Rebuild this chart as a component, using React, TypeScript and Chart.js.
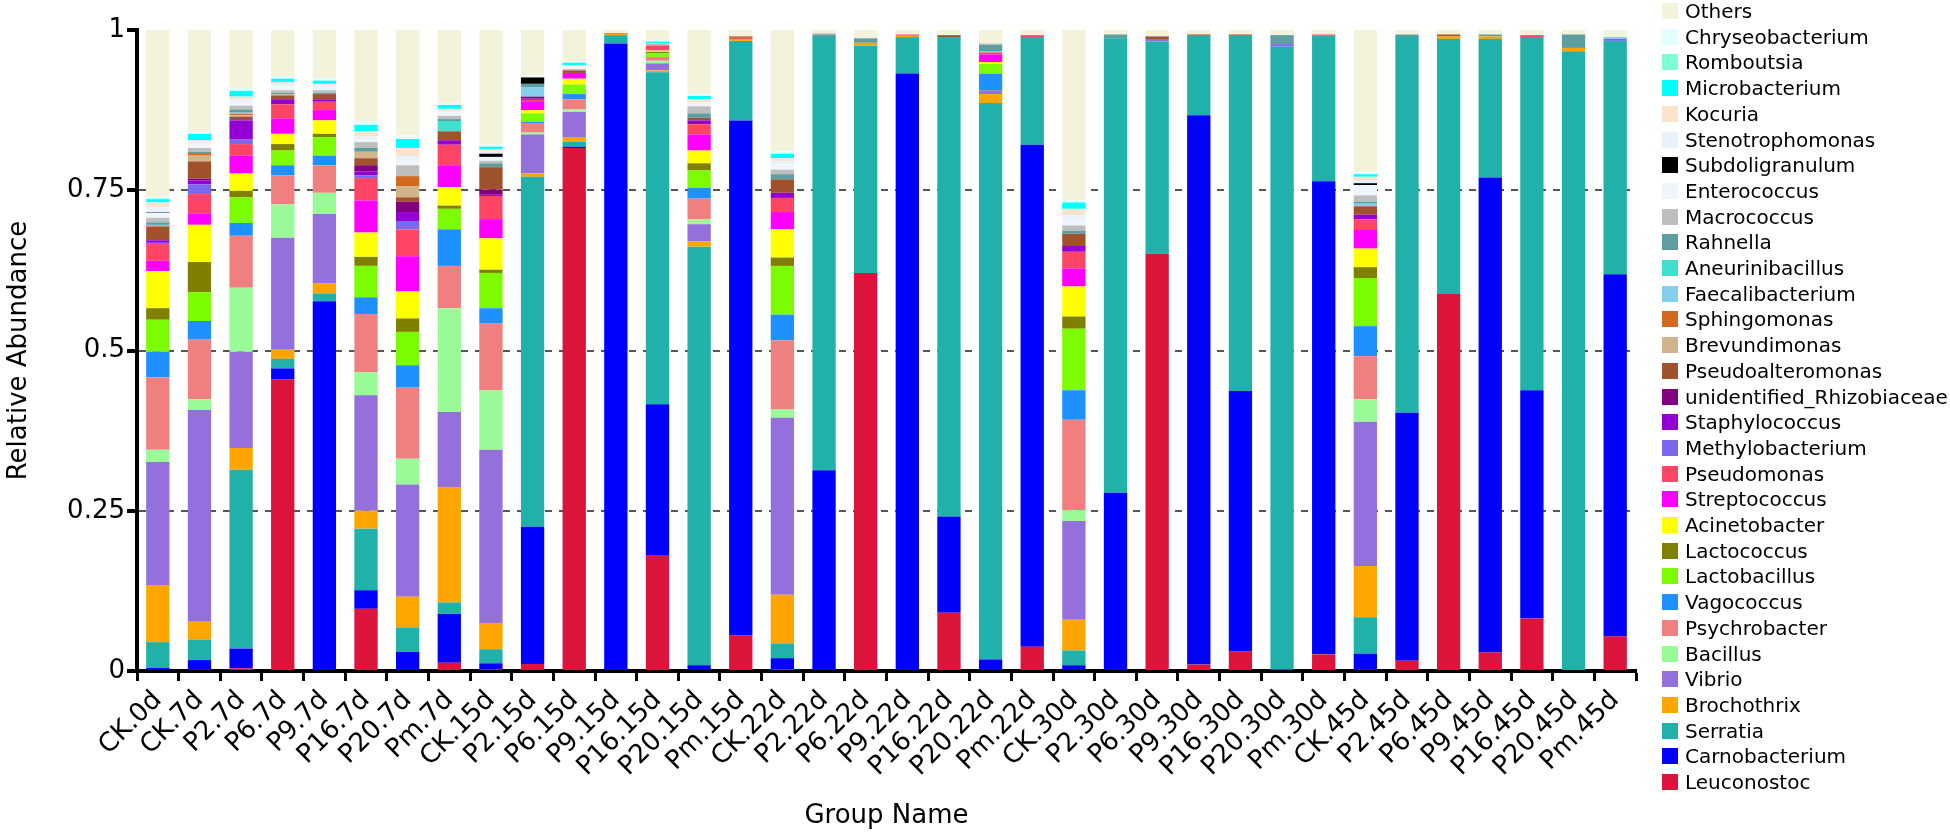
import { useEffect, useRef } from 'react';
import Chart from 'chart.js/auto';

const groups = [
  'CK.0d', 'CK.7d', 'P2.7d', 'P6.7d', 'P9.7d', 'P16.7d', 'P20.7d', 'Pm.7d',
  'CK.15d', 'P2.15d', 'P6.15d', 'P9.15d', 'P16.15d', 'P20.15d', 'Pm.15d',
  'CK.22d', 'P2.22d', 'P6.22d', 'P9.22d', 'P16.22d', 'P20.22d', 'Pm.22d',
  'CK.30d', 'P2.30d', 'P6.30d', 'P9.30d', 'P16.30d', 'P20.30d', 'Pm.30d',
  'CK.45d', 'P2.45d', 'P6.45d', 'P9.45d', 'P16.45d', 'P20.45d', 'Pm.45d',
];

const yTicks = ['0', '0.25', '0.5', '0.75', '1'];

// relative abundance per group, bottom of the stack first
const leuconostoc = [0, 0.002, 0.004, 0.455, 0, 0.097, 0, 0.013, 0.003, 0.011, 0.816, 0, 0.181, 0, 0.056, 0.003, 0, 0.621, 0, 0.091, 0, 0.038, 0, 0, 0.651, 0.010, 0.031, 0, 0.026, 0.002, 0.016, 0.588, 0.029, 0.082, 0, 0.054];
const carnobacterium = [0.005, 0.015, 0.031, 0.017, 0.577, 0.029, 0.030, 0.076, 0.009, 0.214, 0.002, 0.979, 0.235, 0.009, 0.803, 0.017, 0.313, 0, 0.932, 0.150, 0.018, 0.783, 0.009, 0.278, 0, 0.857, 0.406, 0.002, 0.738, 0.025, 0.387, 0, 0.741, 0.356, 0, 0.565];
const serratia = [0.040, 0.032, 0.279, 0.015, 0.012, 0.096, 0.038, 0.018, 0.022, 0.546, 0.008, 0.013, 0.518, 0.653, 0.124, 0.023, 0.676, 0.355, 0.057, 0.748, 0.868, 0.168, 0.023, 0.709, 0.331, 0.124, 0.554, 0.972, 0.227, 0.057, 0.586, 0.398, 0.216, 0.551, 0.967, 0.364];
const brochothrix = [0.089, 0.028, 0.034, 0.014, 0.016, 0.028, 0.048, 0.180, 0.041, 0.005, 0.007, 0.002, 0.003, 0.008, 0.003, 0.076, 0, 0.004, 0.002, 0, 0.014, 0, 0.048, 0, 0, 0, 0, 0, 0, 0.080, 0, 0.004, 0.004, 0, 0.005, 0];
const vibrio = [0.192, 0.330, 0.150, 0.175, 0.108, 0.180, 0.175, 0.117, 0.270, 0.061, 0.039, 0, 0.011, 0.027, 0, 0.276, 0, 0, 0, 0, 0.006, 0, 0.154, 0, 0.004, 0, 0, 0, 0, 0.225, 0, 0, 0, 0, 0, 0];
const bacillus = [0.019, 0.017, 0.100, 0.052, 0.033, 0.036, 0.040, 0.162, 0.093, 0.003, 0.004, 0, 0.004, 0.008, 0, 0.013, 0, 0, 0, 0, 0, 0, 0.017, 0, 0, 0, 0, 0, 0, 0.035, 0, 0, 0, 0, 0, 0];
const psychrobacter = [0.113, 0.093, 0.081, 0.045, 0.043, 0.091, 0.111, 0.066, 0.104, 0.015, 0.016, 0, 0.006, 0.032, 0, 0.108, 0, 0, 0, 0, 0, 0, 0.141, 0, 0, 0, 0, 0, 0, 0.067, 0, 0, 0, 0, 0, 0];
const vagococcus = [0.040, 0.029, 0.020, 0.016, 0.015, 0.026, 0.035, 0.057, 0.024, 0.002, 0.008, 0, 0, 0.017, 0, 0.040, 0, 0, 0, 0, 0.026, 0, 0.046, 0, 0, 0, 0, 0, 0, 0.047, 0, 0, 0, 0, 0, 0];
const lactobacillus = [0.050, 0.045, 0.040, 0.023, 0.029, 0.049, 0.052, 0.032, 0.055, 0.013, 0.015, 0, 0.006, 0.027, 0, 0.076, 0, 0, 0, 0, 0.015, 0, 0.096, 0, 0, 0, 0, 0, 0, 0.075, 0, 0, 0, 0, 0, 0];
const lactococcus = [0.018, 0.047, 0.010, 0.010, 0.005, 0.014, 0.021, 0.005, 0.005, 0, 0, 0, 0.002, 0.011, 0, 0.013, 0, 0, 0, 0, 0, 0, 0.019, 0, 0, 0, 0, 0, 0, 0.017, 0, 0, 0, 0, 0, 0];
const acinetobacter = [0.058, 0.058, 0.027, 0.016, 0.021, 0.038, 0.042, 0.029, 0.049, 0.005, 0.009, 0, 0.002, 0.020, 0, 0.044, 0, 0, 0, 0, 0.003, 0, 0.047, 0, 0, 0, 0, 0, 0, 0.029, 0, 0, 0, 0, 0, 0];
const streptococcus = [0.016, 0.018, 0.028, 0.024, 0.016, 0.050, 0.055, 0.034, 0.030, 0.014, 0.009, 0, 0.002, 0.025, 0, 0.027, 0, 0, 0, 0, 0.012, 0, 0.028, 0, 0, 0, 0, 0, 0, 0.029, 0, 0, 0, 0, 0, 0];
const pseudomonas = [0.026, 0.030, 0.018, 0.022, 0.013, 0.035, 0.042, 0.032, 0.036, 0.002, 0, 0, 0.006, 0.016, 0.002, 0.022, 0, 0, 0.002, 0, 0.003, 0.003, 0.026, 0, 0, 0, 0, 0, 0.002, 0.017, 0, 0, 0, 0.003, 0, 0];
const methylobacterium = [0.002, 0.015, 0.007, 0, 0, 0.004, 0.013, 0, 0, 0, 0, 0, 0, 0, 0, 0, 0, 0, 0, 0, 0, 0, 0, 0, 0, 0, 0, 0.004, 0, 0, 0, 0, 0, 0, 0, 0.003];
const staphylococcus = [0.004, 0.006, 0.030, 0.008, 0.004, 0.006, 0.014, 0.007, 0.002, 0.002, 0, 0, 0, 0.006, 0, 0.008, 0, 0, 0, 0, 0, 0, 0.009, 0, 0, 0, 0, 0, 0, 0.007, 0, 0, 0, 0, 0, 0];
const rhizobiaceae = [0, 0.003, 0, 0, 0, 0.010, 0.016, 0, 0.008, 0.003, 0, 0, 0, 0, 0, 0, 0, 0, 0, 0, 0, 0, 0, 0, 0, 0, 0, 0, 0, 0, 0, 0, 0, 0, 0, 0];
const pseudoalteromonas = [0.021, 0.027, 0.006, 0.006, 0.008, 0.011, 0.007, 0.014, 0.035, 0, 0.004, 0.001, 0, 0.004, 0.002, 0.021, 0, 0, 0, 0.003, 0, 0, 0.019, 0, 0.004, 0.002, 0.002, 0, 0, 0.013, 0, 0.003, 0, 0, 0, 0];
const brevundimonas = [0, 0.009, 0.002, 0.002, 0, 0.010, 0.017, 0, 0, 0, 0, 0, 0, 0, 0, 0, 0, 0, 0, 0, 0, 0, 0, 0, 0, 0, 0, 0, 0, 0, 0, 0, 0, 0, 0, 0];
const sphingomonas = [0.001, 0.004, 0.002, 0, 0, 0, 0.016, 0, 0, 0, 0, 0, 0, 0, 0, 0, 0, 0, 0, 0, 0, 0, 0, 0, 0, 0, 0, 0, 0, 0, 0, 0, 0, 0, 0, 0];
const faecalibacterium = [0, 0, 0.002, 0, 0, 0, 0, 0, 0, 0.015, 0, 0, 0, 0, 0, 0, 0, 0, 0, 0, 0, 0, 0, 0, 0, 0, 0, 0, 0, 0.004, 0, 0, 0, 0, 0, 0.003];
const aneurinibacillus = [0.002, 0, 0, 0, 0, 0, 0, 0.016, 0, 0, 0, 0, 0, 0, 0, 0, 0, 0, 0, 0, 0.002, 0, 0, 0, 0, 0, 0, 0, 0, 0, 0, 0, 0, 0, 0, 0];
const rahnella = [0.004, 0.002, 0.005, 0.002, 0.002, 0.006, 0, 0.003, 0.006, 0.005, 0, 0, 0, 0.007, 0, 0.008, 0.004, 0.007, 0, 0, 0.010, 0, 0.005, 0.006, 0, 0, 0, 0.014, 0, 0.003, 0.004, 0, 0.003, 0, 0.021, 0];
const macrococcus = [0.007, 0.006, 0.006, 0.004, 0.004, 0.009, 0.017, 0.005, 0.004, 0, 0.002, 0, 0.003, 0.011, 0, 0.007, 0.002, 0, 0, 0, 0.002, 0, 0.008, 0, 0, 0, 0, 0, 0, 0.010, 0, 0, 0, 0, 0, 0];
const enterococcus = [0.008, 0.006, 0.006, 0.006, 0.005, 0.005, 0.007, 0.005, 0.006, 0, 0.004, 0, 0, 0.003, 0, 0.008, 0, 0, 0, 0, 0, 0, 0.008, 0, 0, 0, 0, 0, 0, 0.016, 0, 0, 0, 0, 0, 0];
const subdoligranulum = [0.001, 0, 0, 0, 0, 0, 0, 0, 0.005, 0.010, 0, 0, 0, 0, 0, 0, 0, 0, 0, 0, 0, 0, 0, 0, 0, 0, 0, 0, 0, 0.003, 0, 0, 0, 0, 0, 0];
const stenotrophomonas = [0.008, 0.004, 0.004, 0.004, 0.003, 0.004, 0.007, 0.003, 0.004, 0, 0, 0, 0, 0.003, 0, 0.005, 0, 0, 0, 0, 0, 0, 0.008, 0, 0, 0, 0, 0, 0, 0.004, 0, 0, 0, 0, 0, 0];
const kocuria = [0.007, 0.002, 0.004, 0.003, 0.002, 0.008, 0.013, 0.003, 0.003, 0, 0.002, 0, 0, 0.005, 0, 0.005, 0, 0, 0, 0, 0, 0, 0.010, 0, 0, 0, 0, 0, 0, 0.006, 0, 0, 0, 0, 0, 0];
const microbacterium = [0.005, 0.010, 0.009, 0.005, 0.005, 0.010, 0.014, 0.006, 0.004, 0, 0.004, 0, 0.003, 0.005, 0, 0.007, 0, 0, 0, 0, 0, 0, 0.010, 0, 0, 0, 0, 0, 0, 0.004, 0, 0, 0, 0, 0, 0];
const romboutsia = [0.001, 0, 0, 0, 0, 0, 0, 0, 0, 0, 0, 0, 0, 0, 0, 0, 0, 0, 0, 0, 0, 0, 0, 0, 0, 0, 0, 0, 0, 0, 0, 0, 0, 0, 0, 0];
const chryseobacterium = [0.003, 0.004, 0.004, 0.004, 0.003, 0.006, 0.006, 0.003, 0.003, 0.003, 0.001, 0, 0.002, 0.003, 0, 0.004, 0, 0, 0, 0, 0, 0, 0.004, 0, 0, 0, 0, 0, 0, 0.004, 0, 0, 0, 0, 0, 0];
const others = [0.260, 0.158, 0.091, 0.072, 0.076, 0.142, 0.164, 0.114, 0.179, 0.071, 0.050, 0.005, 0.016, 0.100, 0.010, 0.189, 0.005, 0.013, 0.007, 0.008, 0.021, 0.008, 0.265, 0.007, 0.010, 0.007, 0.007, 0.008, 0.007, 0.221, 0.007, 0.007, 0.007, 0.008, 0.007, 0.011];

const series = [
  { name: 'Leuconostoc', data: leuconostoc, color: '#DC143C' },
  { name: 'Carnobacterium', data: carnobacterium, color: '#0000FF' },
  { name: 'Serratia', data: serratia, color: '#20B2AA' },
  { name: 'Brochothrix', data: brochothrix, color: '#FFA500' },
  { name: 'Vibrio', data: vibrio, color: '#9370DB' },
  { name: 'Bacillus', data: bacillus, color: '#98FB98' },
  { name: 'Psychrobacter', data: psychrobacter, color: '#F08080' },
  { name: 'Vagococcus', data: vagococcus, color: '#1E90FF' },
  { name: 'Lactobacillus', data: lactobacillus, color: '#7CFC00' },
  { name: 'Lactococcus', data: lactococcus, color: '#808000' },
  { name: 'Acinetobacter', data: acinetobacter, color: '#FFFF00' },
  { name: 'Streptococcus', data: streptococcus, color: '#FF00FF' },
  { name: 'Pseudomonas', data: pseudomonas, color: '#FF4466' },
  { name: 'Methylobacterium', data: methylobacterium, color: '#7B68EE' },
  { name: 'Staphylococcus', data: staphylococcus, color: '#9400D3' },
  { name: 'unidentified_Rhizobiaceae', data: rhizobiaceae, color: '#800080' },
  { name: 'Pseudoalteromonas', data: pseudoalteromonas, color: '#A0522D' },
  { name: 'Brevundimonas', data: brevundimonas, color: '#D2B48C' },
  { name: 'Sphingomonas', data: sphingomonas, color: '#D2691E' },
  { name: 'Faecalibacterium', data: faecalibacterium, color: '#87CEEB' },
  { name: 'Aneurinibacillus', data: aneurinibacillus, color: '#40E0D0' },
  { name: 'Rahnella', data: rahnella, color: '#5F9EA0' },
  { name: 'Macrococcus', data: macrococcus, color: '#BEBEBE' },
  { name: 'Enterococcus', data: enterococcus, color: '#EEF5FD' },
  { name: 'Subdoligranulum', data: subdoligranulum, color: '#000000' },
  { name: 'Stenotrophomonas', data: stenotrophomonas, color: '#E8F2FC' },
  { name: 'Kocuria', data: kocuria, color: '#FBE3CE' },
  { name: 'Microbacterium', data: microbacterium, color: '#00FFFF' },
  { name: 'Romboutsia', data: romboutsia, color: '#7FFFD4' },
  { name: 'Chryseobacterium', data: chryseobacterium, color: '#E0FFFF' },
  { name: 'Others', data: others, color: '#F3F2DB' },
];

const FONT = "'DejaVu Sans', Verdana, sans-serif";

export default function App() {
  const canvasRef = useRef<HTMLCanvasElement>(null);
  const chartRef = useRef<Chart | null>(null);

  useEffect(() => {
    if (!canvasRef.current) return;
    if (chartRef.current) chartRef.current.destroy();
    const ctx = canvasRef.current.getContext('2d');
    if (!ctx) return;

    chartRef.current = new Chart(ctx, {
      type: 'bar',
      data: {
        labels: groups,
        datasets: series.map((s) => ({
          label: s.name,
          data: s.data,
          backgroundColor: s.color,
          borderWidth: 0,
          barPercentage: 0.56,
          categoryPercentage: 1,
        })),
      },
      options: {
        animation: false,
        responsive: false,
        devicePixelRatio: 1,
        layout: { padding: { top: 30, right: 314, bottom: 0, left: 0 } },
        plugins: {
          legend: { display: false },
          tooltip: { enabled: false },
        },
        scales: {
          x: {
            stacked: true,
            grid: {
              display: true,
              drawOnChartArea: false,
              drawTicks: true,
              tickLength: 10,
              tickWidth: 3,
              tickColor: '#000',
            },
            border: { display: true, color: '#000', width: 4 },
            ticks: {
              color: '#000',
              font: { family: FONT, size: 26 },
              minRotation: 45,
              maxRotation: 45,
              autoSkip: false,
              padding: 4,
            },
            title: {
              display: true,
              text: 'Group Name',
              color: '#000',
              font: { family: FONT, size: 26 },
              padding: { top: 0, bottom: 4 },
            },
            afterFit: (scale: any) => {
              scale.height = 165;
            },
          },
          y: {
            stacked: true,
            min: 0,
            max: 1,
            ticks: {
              stepSize: 0.25,
              color: '#000',
              font: { family: FONT, size: 26 },
              padding: 2,
              callback: (value: any) => yTicks[Math.round(Number(value) * 4)],
            },
            grid: {
              color: (c: any) =>
                c.tick && c.tick.value > 0 && c.tick.value < 1 ? '#555555' : 'rgba(0,0,0,0)',
              lineWidth: 2,
              drawTicks: true,
              tickLength: 10,
              tickWidth: 4,
              tickColor: '#000',
            },
            border: { display: true, color: '#000', width: 4, dash: [7, 7] },
            title: {
              display: true,
              text: 'Relative Abundance',
              color: '#000',
              font: { family: FONT, size: 26 },
              padding: { top: 4, bottom: 4 },
            },
            afterFit: (scale: any) => {
              scale.width = 137;
            },
          },
        },
      },
    });

    return () => {
      if (chartRef.current) {
        chartRef.current.destroy();
        chartRef.current = null;
      }
    };
  }, []);

  const legendItems = [...series].reverse();

  return (
    <div
      style={{
        position: 'fixed',
        left: 0,
        top: 0,
        width: 1950,
        height: 836,
        background: '#fff',
        fontFamily: FONT,
        overflow: 'hidden',
      }}
    >
      <canvas ref={canvasRef} width={1950} height={836} style={{ width: 1950, height: 836, display: 'block' }} />
      {legendItems.map((s, i) => (
        <div
          key={s.name}
          style={{
            position: 'absolute',
            left: 1662,
            top: 11 + i * 25.7 - 12,
            height: 24,
            display: 'flex',
            alignItems: 'center',
            whiteSpace: 'nowrap',
          }}
        >
          <span style={{ display: 'inline-block', width: 16, height: 16, background: s.color }} />
          <span style={{ marginLeft: 7, fontSize: 20, color: '#000', lineHeight: '24px' }}>{s.name}</span>
        </div>
      ))}
    </div>
  );
}
